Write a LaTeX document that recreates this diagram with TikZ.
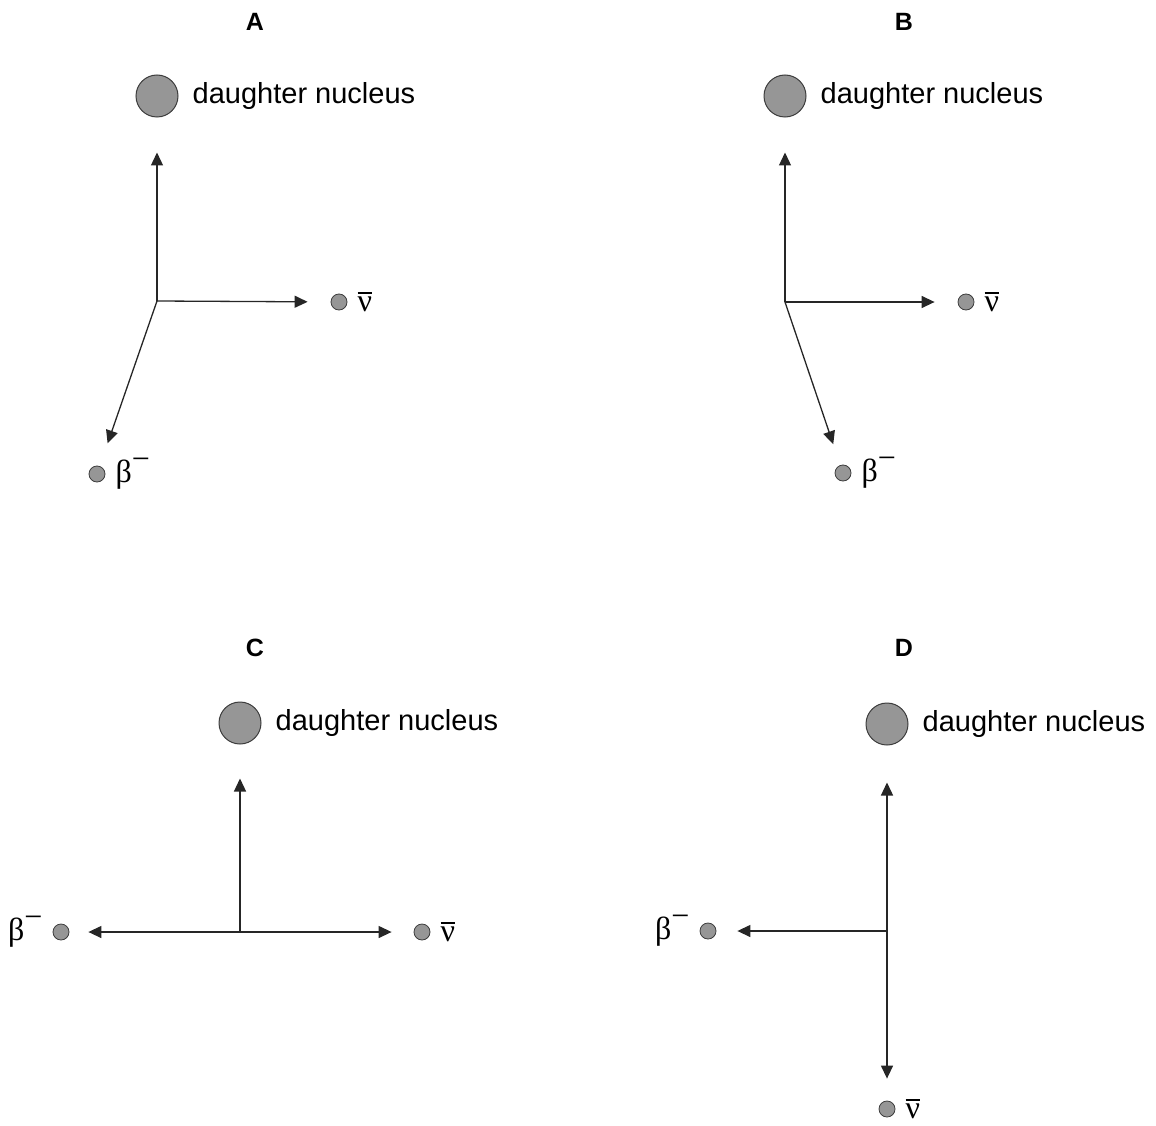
\documentclass[tikz,border=0pt]{standalone}
\usepackage{fontspec}
\setmainfont{Liberation Sans}
\newfontfamily\greekfont{Liberation Serif}
\usepackage{tikz}
\usetikzlibrary{positioning}
\usetikzlibrary{arrows.meta}
\definecolor{partfill}{RGB}{150,150,150}
\definecolor{partedge}{RGB}{60,60,60}
\newcommand{\antinu}{{\greekfont\setbox0\hbox{ν}\vbox{\hrule height 1.6pt\kern 3.5pt\box0}}}
\newcommand{\betam}{{\greekfont β\raisebox{0.40em}{−}}}

\begin{document}
\begin{tikzpicture}[x=1pt,y=-1pt,
    nucleus/.style={circle,draw=partedge,fill=partfill,line width=1pt,minimum size=42pt,inner sep=0pt},
    particle/.style={circle,draw=partedge,fill=partfill,line width=0.8pt,minimum size=16pt,inner sep=0pt},
    vec/.style={draw=black!85,line width=1.3pt,-{Triangle[length=13pt,width=12pt]}},
    lbl/.style={inner sep=0pt,font=\fontsize{29}{34}\selectfont},
    sym/.style={inner sep=0pt,font=\fontsize{32}{38}\selectfont},
    title/.style={font=\fontsize{25}{30}\selectfont\bfseries}]
        \useasboundingbox (0,0) rectangle (1156,1126);

        % panel A
        \node[title] (tA) at (255,22) {A};
        \node[nucleus] (nucA) at (157,96) {};
        \node[lbl, right=14pt of nucA] (dA) {daughter nucleus};
        \coordinate (oA) at (157,301);
        \node[particle] (nuA) at (339,302) {};
        \node[sym, right=10pt of nuA] (nuAl) {\antinu};
        \node[particle] (betaA) at (97,474) {};
        \node[sym, right=10pt of betaA] (betaAl) {\betam};
        \draw[vec, shorten >=35pt] (oA) -- (nucA);
        \draw[vec, shorten >=23pt] (oA) -- (nuA);
        \draw[vec, shorten >=24pt] (oA) -- (betaA);

        % panel B
        \node[title] (tB) at (904,22) {B};
        \node[nucleus] (nucB) at (785,96) {};
        \node[lbl, right=14pt of nucB] (dB) {daughter nucleus};
        \coordinate (oB) at (785,302);
        \node[particle] (nuB) at (966,302) {};
        \node[sym, right=10pt of nuB] (nuBl) {\antinu};
        \node[particle] (betaB) at (843,473) {};
        \node[sym, right=10pt of betaB] (betaBl) {\betam};
        \draw[vec, shorten >=35pt] (oB) -- (nucB);
        \draw[vec, shorten >=23pt] (oB) -- (nuB);
        \draw[vec, shorten >=22pt] (oB) -- (betaB);

        % panel C
        \node[title] (tC) at (255,648) {C};
        \node[nucleus] (nucC) at (240,723) {};
        \node[lbl, right=14pt of nucC] (dC) {daughter nucleus};
        \coordinate (oC) at (240,932);
        \node[particle] (nuC) at (422,932) {};
        \node[sym, right=10pt of nuC] (nuCl) {\antinu};
        \node[particle] (betaC) at (61,932) {};
        \node[sym, left=10pt of betaC] (betaCl) {\betam};
        \draw[vec, shorten >=34pt] (oC) -- (nucC);
        \draw[vec, shorten >=22pt] (oC) -- (nuC);
        \draw[vec, shorten >=19pt] (oC) -- (betaC);

        % panel D
        \node[title] (tD) at (904,648) {D};
        \node[nucleus] (nucD) at (887,724) {};
        \node[lbl, right=14pt of nucD] (dD) {daughter nucleus};
        \coordinate (oD) at (887,931);
        \node[particle] (nuD) at (887,1109) {};
        \node[sym, right=10pt of nuD] (nuDl) {\antinu};
        \node[particle] (betaD) at (708,931) {};
        \node[sym, left=10pt of betaD] (betaDl) {\betam};
        \draw[vec, shorten >=37pt] (oD) -- (nucD);
        \draw[vec, shorten >=22pt] (oD) -- (nuD);
        \draw[vec, shorten >=21pt] (oD) -- (betaD);
\end{tikzpicture}
\end{document}
